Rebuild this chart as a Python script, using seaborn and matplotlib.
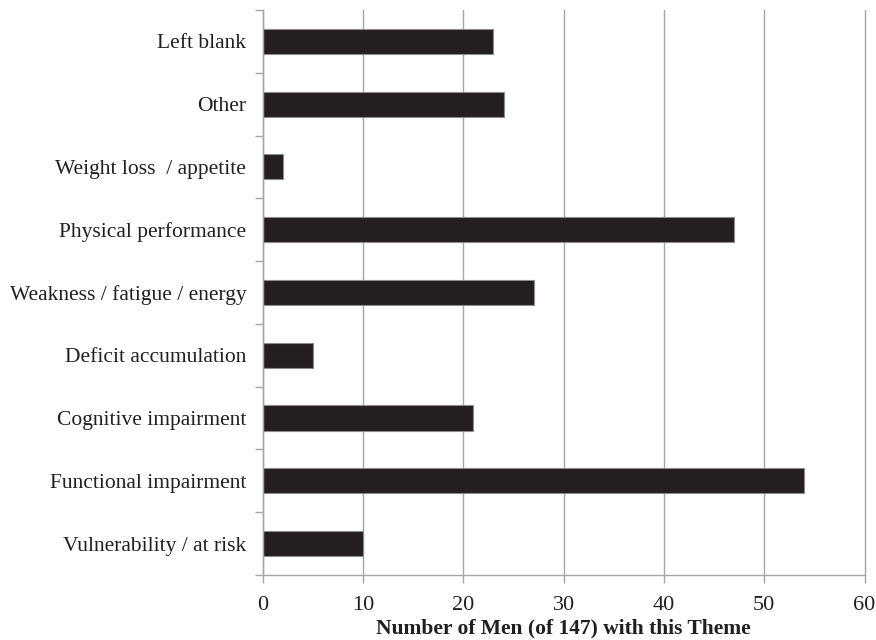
import matplotlib
matplotlib.use("Agg")
import matplotlib.pyplot as plt
import seaborn as sns
import pandas as pd
import numpy as np

categories = ["Left blank", "Other", "Weight loss  / appetite", "Physical performance",
              "Weakness / fatigue / energy", "Deficit accumulation", "Cognitive impairment",
              "Functional impairment", "Vulnerability / at risk"]
counts = [23, 24, 2, 47, 27, 5, 21, 54, 10]
x_ticks = [0, 10, 20, 30, 40, 50, 60]
x_label = "Number of Men (of 147) with this Theme"

sns.set_style("white")
plt.rcParams['font.family'] = ['Liberation Serif', 'DejaVu Serif']
plt.rcParams['text.color'] = '#231f20'
plt.rcParams['xtick.labelcolor'] = '#231f20'
plt.rcParams['ytick.labelcolor'] = '#231f20'

df = pd.DataFrame({"theme": categories, "count": counts})

fig = plt.figure(figsize=(8.76, 6.4), dpi=100)
ax = fig.add_axes([0.300, 0.1016, 0.687, 0.8828])

sns.barplot(data=df, y="theme", x="count", order=categories, color="#231f20",
            width=0.4, edgecolor="#8c8c8c", linewidth=0.8, ax=ax, orient="h", saturation=1)

ax.set_xlim(0, 60)
ax.set_ylim(len(categories) - 0.5, -0.5)
ax.set_xticks(x_ticks)
ax.set_xticklabels([str(t) for t in x_ticks], fontsize=16)
ax.xaxis.grid(True, color="#a6a6a6", linewidth=1)
ax.set_axisbelow(True)
for gl in ax.get_xgridlines():
    gl.set_clip_on(False)

ax.set_yticks(range(len(categories)))
ax.set_yticklabels(categories, fontsize=15.5)
ax.tick_params(axis="y", which="major", length=0, pad=12)
ax.set_yticks(np.arange(-0.5, len(categories), 1.0), minor=True)
ax.tick_params(axis="y", which="minor", length=6, color="#a6a6a6", width=1, left=True)
ax.tick_params(axis="x", which="major", length=6, color="#a6a6a6", width=1, bottom=True, pad=9)

for s in ["top", "right"]:
    ax.spines[s].set_visible(False)
for s in ["left", "bottom"]:
    ax.spines[s].set_color("#a6a6a6")
    ax.spines[s].set_linewidth(1)

ax.set_ylabel("")
ax.set_xlabel(x_label, fontsize=15.5, fontweight="bold", labelpad=3, color="#231f20")

fig.savefig("out.png", dpi=100)
